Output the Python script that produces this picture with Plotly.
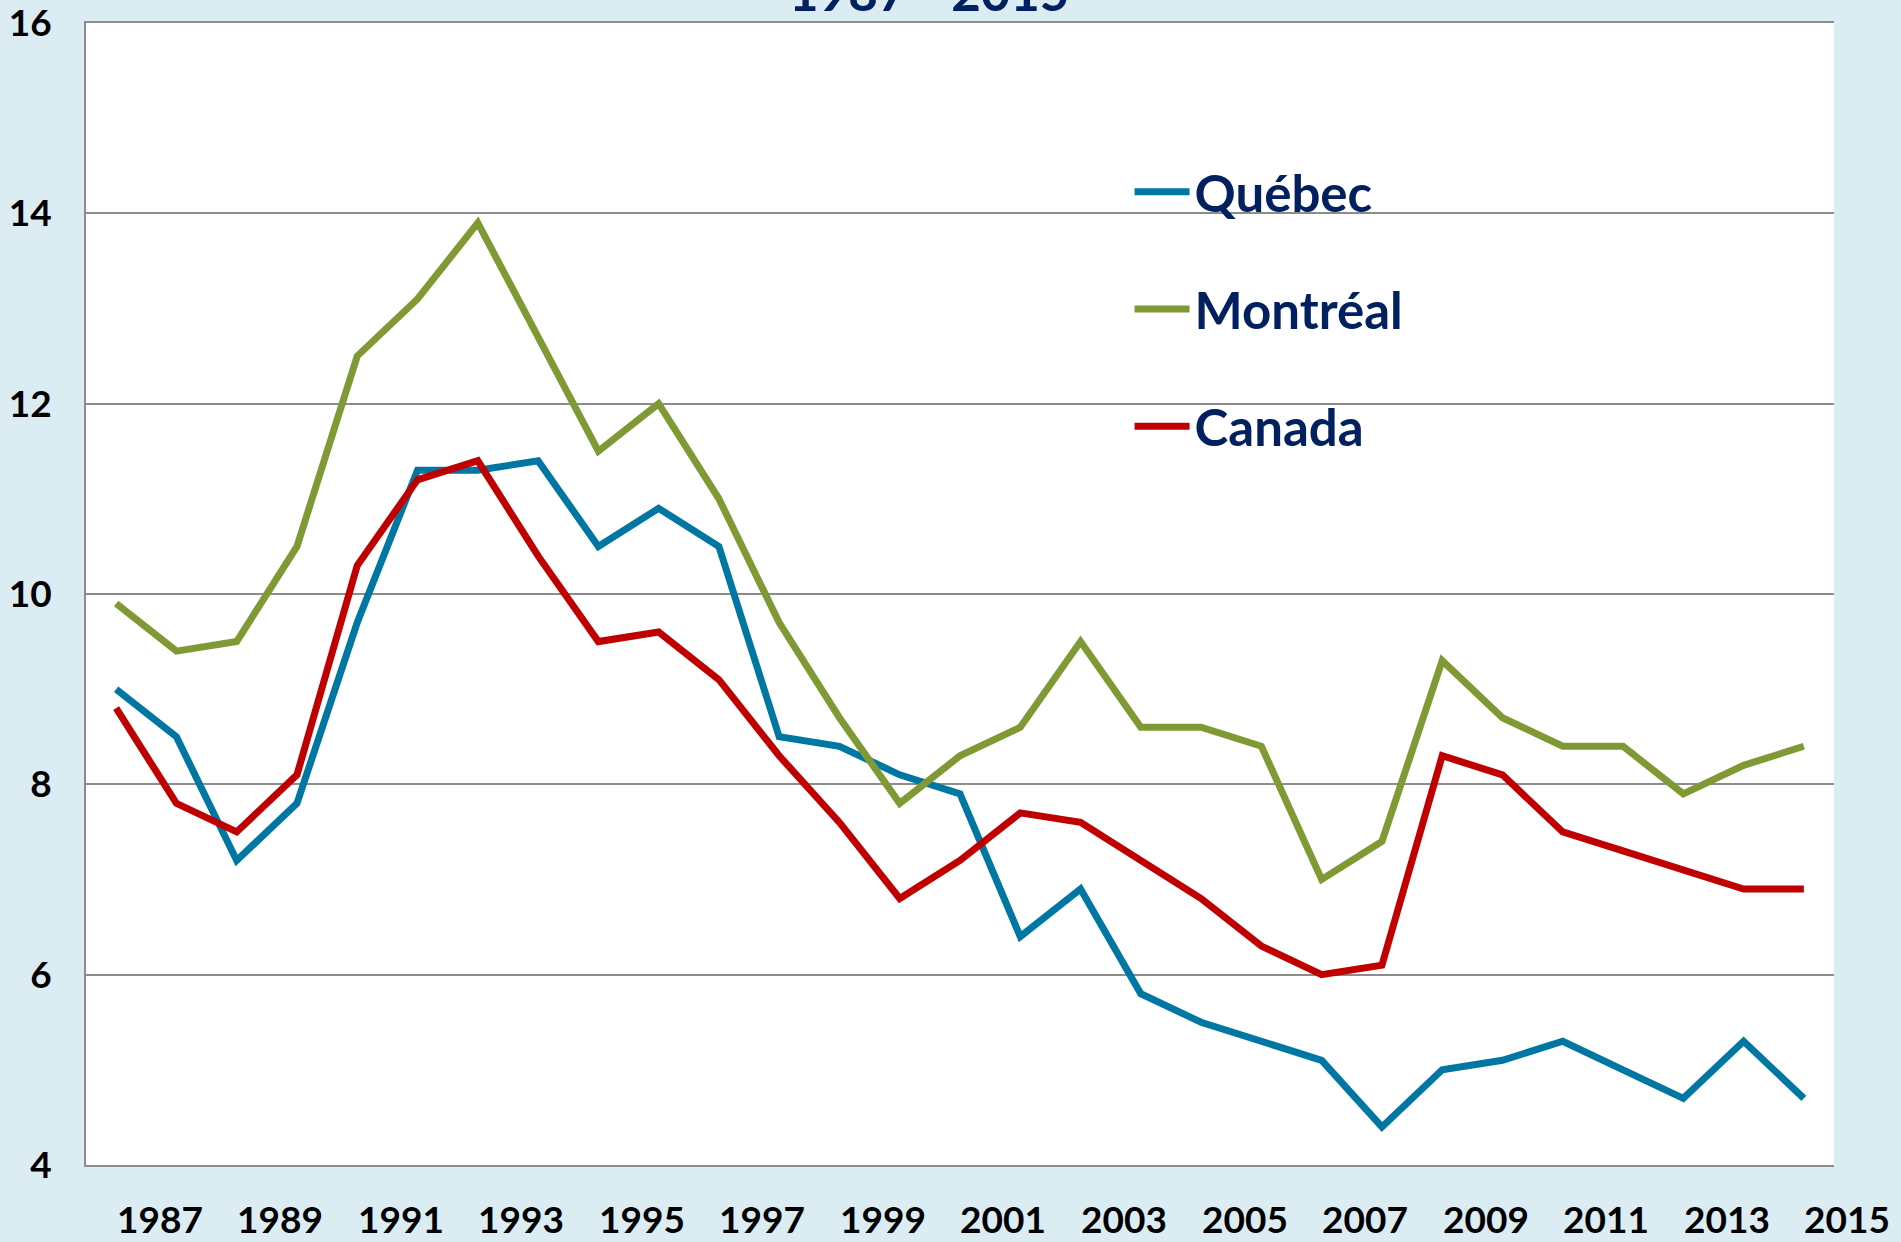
"""
Unemployment rate chart: Québec, Montréal, Canada, 1987-2015
"""

import plotly.graph_objects as go

years = list(range(1987, 2016))

quebec = [9.0, 8.5, 7.2, 7.8, 9.7, 11.3, 11.3, 11.4, 10.5, 10.9,
          10.5, 8.5, 8.4, 8.1, 7.9, 6.4, 6.9, 5.8, 5.5, 5.3,
          5.1, 4.4, 5.0, 5.1, 5.3, 5.0, 4.7, 5.3, 4.7]

montreal = [9.9, 9.4, 9.5, 10.5, 12.5, 13.1, 13.9, 12.7, 11.5, 12.0,
            11.0, 9.7, 8.7, 7.8, 8.3, 8.6, 9.5, 8.6, 8.6, 8.4,
            7.0, 7.4, 9.3, 8.7, 8.4, 8.4, 7.9, 8.2, 8.4]

canada = [8.8, 7.8, 7.5, 8.1, 10.3, 11.2, 11.4, 10.4, 9.5, 9.6,
          9.1, 8.3, 7.6, 6.8, 7.2, 7.7, 7.6, 7.2, 6.8, 6.3,
          6.0, 6.1, 8.3, 8.1, 7.5, 7.3, 7.1, 6.9, 6.9]

tick_years = list(range(1987, 2016, 2))
y_ticks = [4, 6, 8, 10, 12, 14, 16]

series = [
    ("Québec", quebec, "#0077A2"),
    ("Montréal", montreal, "#7F9A34"),
    ("Canada", canada, "#C00000"),
]

NAVY = "#002060"
FONT = "Lato"
GRID = "#8C8C8C"
X_RANGE = [1986.5, 2015.5]

fig = go.Figure()

for name, values, color in series:
    fig.add_trace(go.Scatter(
        x=years,
        y=values,
        mode="lines",
        name="<b>" + name + "</b>",
        legendgroup=name,
        line=dict(color=color, width=7),
    ))

# x labels sit shifted right of the data points, as in the original;
# placed in paper coords so the last one can hang past the plot edge
annotations = []
span = X_RANGE[1] - X_RANGE[0]
for yr in tick_years:
    annotations.append(dict(
        x=(yr + 0.72 - X_RANGE[0]) / span, y=-0.0255,
        xref="paper", yref="paper",
        text="<b>" + str(yr) + "</b>", showarrow=False,
        xanchor="center", yanchor="top",
        font=dict(family=FONT, size=37, color="black"),
    ))

# title, mostly cut off at the top edge
annotations.append(dict(
    x=0.482, y=0.999, xref="paper", yref="paper",
    text="<b>1987 - 2015</b>", showarrow=False,
    xanchor="center", yanchor="bottom",
    font=dict(family=FONT, size=51, color=NAVY),
))

fig.update_layout(
    width=1901,
    height=1242,
    margin=dict(l=86, r=67, t=23, b=77),
    paper_bgcolor="#DBEDF3",
    plot_bgcolor="white",
    font=dict(family=FONT, color="black"),
    showlegend=True,
    legend=dict(
        x=0.597, y=0.887, xanchor="left", yanchor="top",
        bgcolor="rgba(0,0,0,0)",
        font=dict(family=FONT, size=51, color=NAVY),
        tracegroupgap=48,
        traceorder="grouped",
        itemwidth=55,
    ),
    annotations=annotations,
)

fig.update_xaxes(
    range=X_RANGE,
    showgrid=False,
    showticklabels=False,
    showline=True,
    mirror=True,
    linecolor=GRID,
    linewidth=2,
    zeroline=False,
)

fig.update_yaxes(
    range=[4, 16],
    tickvals=y_ticks,
    ticktext=["<b>" + str(v) + "</b>" for v in y_ticks],
    tickfont=dict(family=FONT, size=37, color="black"),
    ticklabelstandoff=25,
    ticklabeloverflow="allow",
    automargin=False,
    showgrid=True,
    gridcolor=GRID,
    gridwidth=1.5,
    showline=True,
    linecolor=GRID,
    linewidth=2,
    zeroline=False,
)

fig.write_html(
    "out.html",
    config={"displayModeBar": False},
    post_script="document.body.style.margin='0px';",
)
